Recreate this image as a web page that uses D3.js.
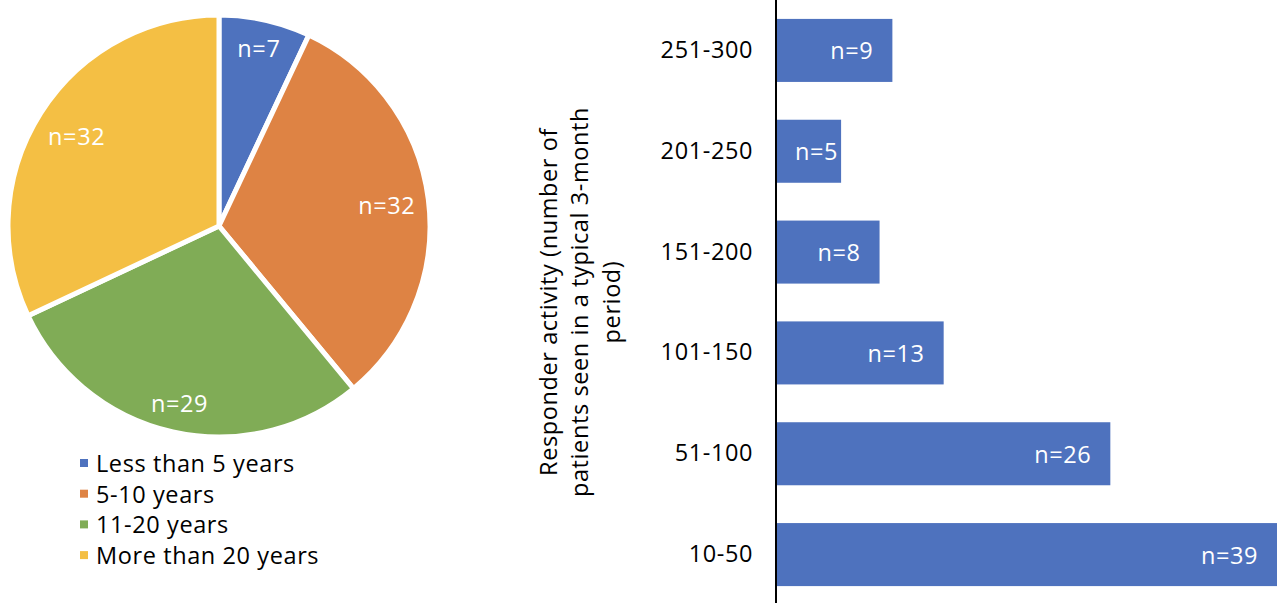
<!DOCTYPE html>
<html>
<head>
<meta charset="utf-8">
<script src="https://cdn.jsdelivr.net/npm/d3@7"></script>
<style>
  body { margin: 0; background: #fff; }
  svg text { font-family: "Open Sans", sans-serif; letter-spacing: 0.6px; }
</style>
</head>
<body>
<script>
// pie: years of experience
var pieLabels = ["Less than 5 years", "5-10 years", "11-20 years", "More than 20 years"];
var pieValues = [7, 32, 29, 32];
var pieColors = ["#4e72be", "#de8344", "#80ac56", "#f4bf44"];

// bars: patients seen in a typical 3-month period
var barCats = ["251-300", "201-250", "151-200", "101-150", "51-100", "10-50"];
var barValues = [9, 5, 8, 13, 26, 39];
var axisTitle = ["Responder activity (number of", "patients seen in a typical 3-month", "period)"];

var W = 1278, H = 603, fs = 23.5;

var svg = d3.select("body").append("svg")
    .attr("width", W)
    .attr("height", H);

// ---- pie ----
var cx = 219, cy = 226, R = 211;
var pie = d3.pie().sort(null).value(function(d){ return d; });
var arc = d3.arc().innerRadius(0).outerRadius(R);
var arcs = pie(pieValues);

var gp = svg.append("g").attr("transform", "translate(" + cx + "," + cy + ")");
gp.selectAll("path")
    .data(arcs)
    .enter().append("path")
    .attr("d", arc)
    .attr("fill", function(d, i){ return pieColors[i]; })
    .attr("stroke", "#fff")
    .attr("stroke-width", 5)
    .attr("stroke-linejoin", "round");

// labels at the inside end of each slice
gp.selectAll("text.lbl")
    .data(arcs)
    .enter().append("text")
    .attr("class", "lbl")
    .attr("fill", "#fff")
    .attr("font-size", fs)
    .attr("text-anchor", "middle")
    .attr("dominant-baseline", "central")
    .text(function(d){ return "n=" + d.data; })
    .each(function(d){
        var a = (d.startAngle + d.endAngle) / 2;
        var sx = Math.sin(a), sy = -Math.cos(a);
        var w = this.getComputedTextLength(), h = fs;
        var dist = R - 12 - (w / 2 * Math.abs(sx) + h / 2 * Math.abs(sy));
        d3.select(this).attr("x", dist * sx).attr("y", dist * sy);
    });

// legend
var leg = svg.append("g").attr("transform", "translate(80,463)");
pieLabels.forEach(function(t, i){
    var g = leg.append("g").attr("transform", "translate(0," + (i * 30.7) + ")");
    g.append("rect").attr("x", 0).attr("y", -4).attr("width", 8).attr("height", 8)
        .attr("fill", pieColors[i]);
    g.append("text").attr("x", 16).attr("y", 0)
        .attr("dominant-baseline", "central")
        .attr("font-size", fs)
        .attr("fill", "#000")
        .text(t);
});

// ---- bars ----
var x0 = 777;
var x = d3.scaleLinear().domain([0, 39]).range([x0, 1277]);
var y = d3.scaleBand().domain(barCats).range([0, 605])
    .paddingInner(0.375).paddingOuter(0.1875);

svg.selectAll("rect.bar")
    .data(barValues)
    .enter().append("rect")
    .attr("class", "bar")
    .attr("x", x(0))
    .attr("y", function(d, i){ return y(barCats[i]); })
    .attr("width", function(d){ return x(d) - x(0); })
    .attr("height", y.bandwidth())
    .attr("fill", pieColors[0]);

svg.selectAll("text.val")
    .data(barValues)
    .enter().append("text")
    .attr("class", "val")
    .attr("fill", "#fff")
    .attr("font-size", fs)
    .attr("text-anchor", "end")
    .attr("dominant-baseline", "central")
    .attr("y", function(d, i){ return y(barCats[i]) + y.bandwidth() / 2; })
    .text(function(d){ return "n=" + d; })
    .each(function(d){
        var w = this.getComputedTextLength();
        d3.select(this).attr("x", Math.max(x(d) - 19, x0 + 18 + w));
    });

var yAxis = svg.append("g")
    .attr("transform", "translate(" + x0 + ",0)")
    .call(d3.axisLeft(y).tickSize(0).tickPadding(24));
yAxis.select(".domain").remove();
yAxis.selectAll("text")
    .attr("font-size", fs)
    .attr("fill", "#000")
    .style("font-family", "'Open Sans', sans-serif");

svg.append("line")
    .attr("x1", x0 - 1).attr("x2", x0 - 1)
    .attr("y1", 0).attr("y2", H)
    .attr("stroke", "#000")
    .attr("stroke-width", 2);

// axis title, rotated, three lines
var title = svg.append("text")
    .attr("transform", "translate(580,302) rotate(-90)")
    .attr("text-anchor", "middle")
    .attr("font-size", fs)
    .attr("fill", "#000");
axisTitle.forEach(function(t, i){
    title.append("tspan")
        .attr("x", 0)
        .attr("y", (i - 1) * 31.5)
        .attr("dy", "0.35em")
        .text(t);
});
</script>
</body>
</html>
